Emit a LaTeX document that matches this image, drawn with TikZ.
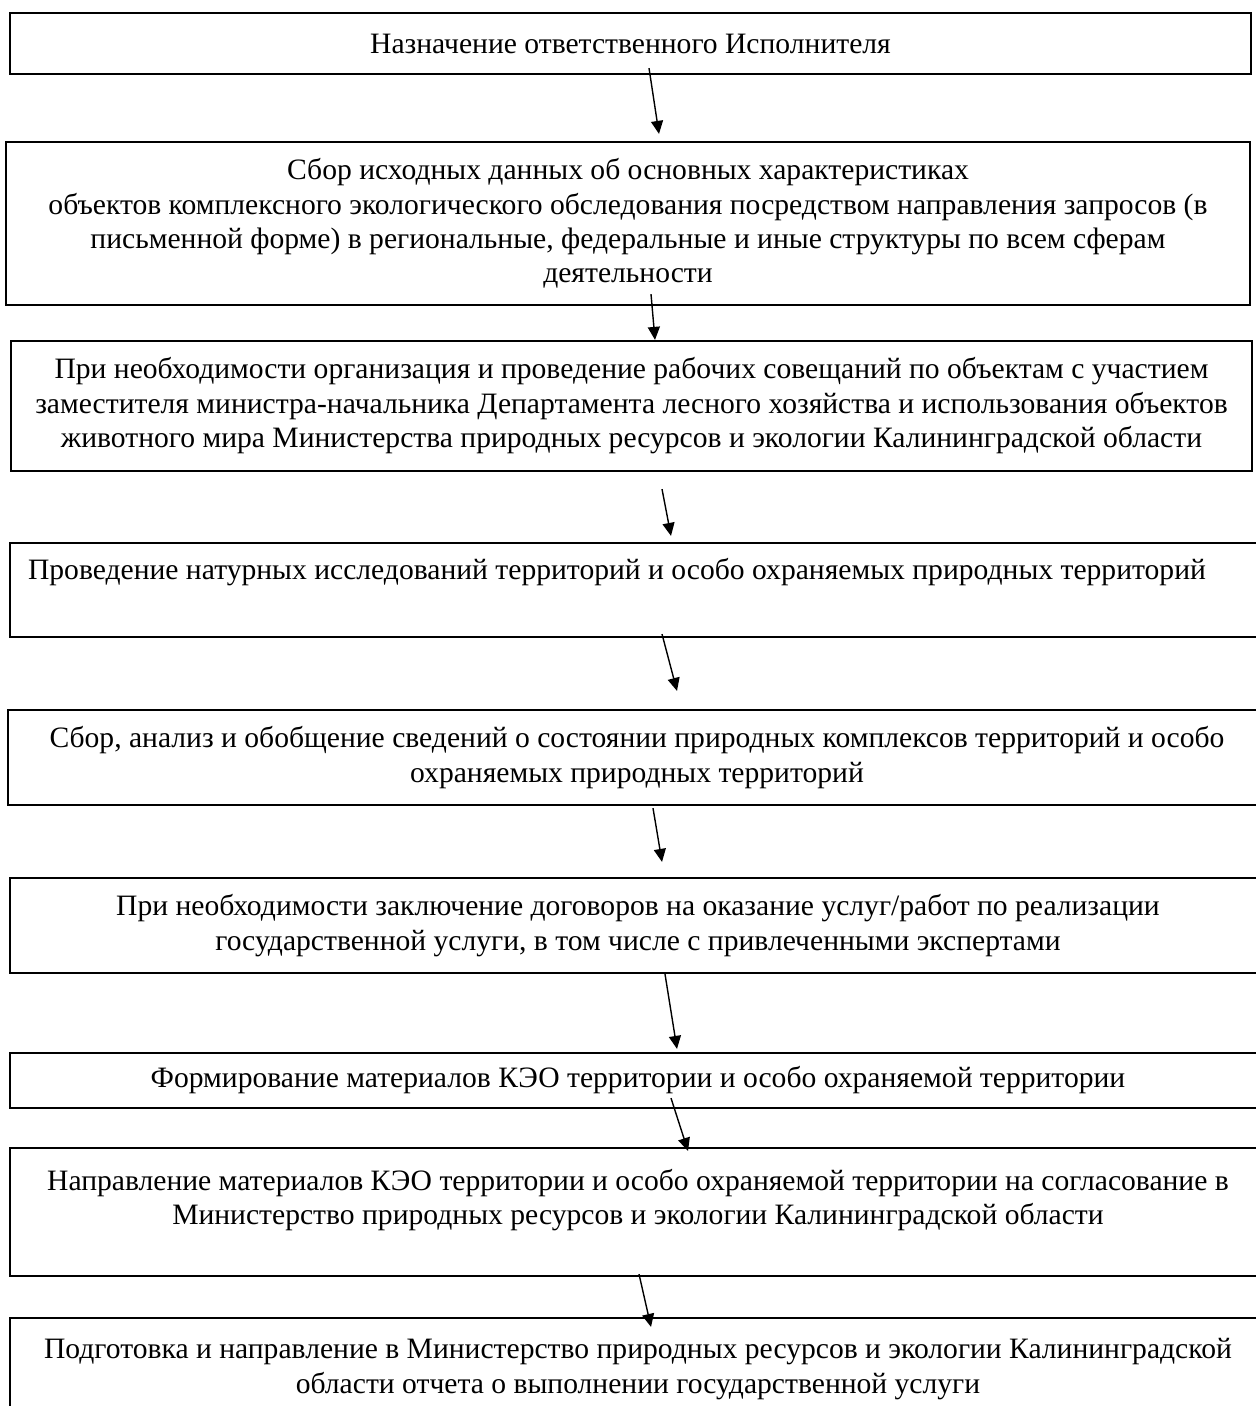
\documentclass[tikz,border=0pt]{standalone}
\usepackage{fontspec}
\setmainfont{Liberation Serif}
\usetikzlibrary{calc,arrows.meta}

\begin{document}
\begin{tikzpicture}
  [x=0.5pt, y=-0.5pt,
   boxN/.style={draw,rectangle,line width=1.1pt,align=center,inner sep=2pt,
                font=\fontsize{14.8}{17.2}\selectfont},
   flowE/.style={-{Triangle[length=6.5pt,width=6pt]},line width=0.7pt}]

  \useasboundingbox (0,0) rectangle (1256,1406);

  \node[boxN,minimum width=620.5pt,minimum height=30.5pt] (b1) at (630.5,43.5)
    {Назначение ответственного Исполнителя};
  \node[boxN,minimum width=622pt,minimum height=81.5pt] (b2) at (628,223.5)
    {Сбор исходных данных об основных характеристиках\\
     объектов комплексного экологического обследования посредством направления запросов (в\\
     письменной форме) в региональные, федеральные и иные структуры по всем сферам\\
     деятельности};
  \node[boxN,minimum width=620.5pt,minimum height=65pt] (b3) at (631.5,406)
    {При необходимости организация и проведение рабочих совещаний по объектам с участием\\
     заместителя министра-начальника Департамента лесного хозяйства и использования объектов\\
     животного мира Министерства природных ресурсов и экологии Калининградской области};
  \node[boxN,minimum width=628pt,minimum height=47pt] (b4) at (638,590)
    {Проведение натурных исследований территорий и особо охраняемых природных территорий\hspace*{21pt}\\[3.5pt]\mbox{}};
  \node[boxN,minimum width=629pt,minimum height=47.5pt] (b5) at (637,757.5)
    {Сбор, анализ и обобщение сведений о состоянии природных комплексов территорий и особо\\
     охраняемых природных территорий};
  \node[boxN,minimum width=628pt,minimum height=47.5pt] (b6) at (638,925.5)
    {При необходимости заключение договоров на оказание услуг/работ по реализации\\
     государственной услуги, в том числе с привлеченными экспертами};
  \node[boxN,minimum width=628pt,minimum height=27.5pt] (b7) at (638,1080.5)
    {Формирование материалов КЭО территории и особо охраняемой территории};
  \node[boxN,minimum width=628pt,minimum height=64pt] (b8) at (638,1212)
    {Направление материалов КЭО территории и особо охраняемой территории на согласование в\\
     Министерство природных ресурсов и экологии Калининградской области\\[-2pt]\mbox{}};
  \node[boxN,minimum width=628pt,minimum height=51pt] (b9) at (638,1369)
    {Подготовка и направление в Министерство природных ресурсов и экологии Калининградской\\
     области отчета о выполнении государственной услуги};

  \draw [flowE] ($(b1.south)+(18.5,-7)$) -- ($(b2.north)+(31,-7)$);
  \draw [flowE] ($(b2.south)+(23,-12)$) -- ($(b3.north)+(23.5,0)$);
  \draw [flowE] ($(b3.south)+(30.5,17)$) -- ($(b4.north)+(33,-6)$);
  \draw [flowE] ($(b4.south)+(24,-4)$) -- ($(b5.north)+(40,-18)$);
  \draw [flowE] ($(b5.south)+(16,2)$) -- ($(b6.north)+(24,-15)$);
  \draw [flowE] ($(b6.south)+(27,0)$) -- ($(b7.north)+(39,-3)$);
  \draw [flowE] ($(b7.south)+(33,-11)$) -- ($(b8.north)+(50,4)$);
  \draw [flowE] ($(b8.south)+(1,-3)$) -- ($(b9.north)+(13,10)$);
\end{tikzpicture}
\end{document}
